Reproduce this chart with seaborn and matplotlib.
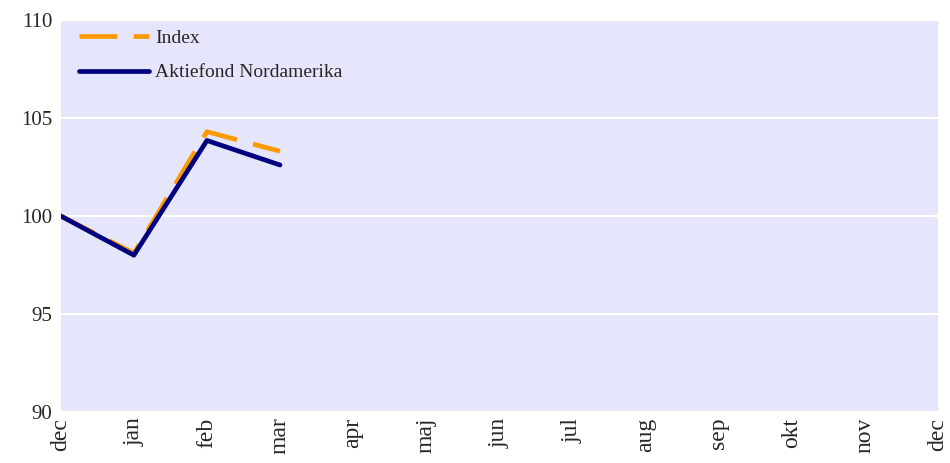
import pandas as pd
import matplotlib
matplotlib.use('Agg')
import matplotlib.pyplot as plt
import seaborn as sns

months = ['dec', 'jan', 'feb', 'mar', 'apr', 'maj', 'jun',
          'jul', 'aug', 'sep', 'okt', 'nov', 'dec']
index_vals = [100.0, 98.1, 104.3, 103.3]
fund_vals = [100.0, 98.0, 103.85, 102.6]

sns.set_style('white')
plt.rcParams['font.family'] = ['Liberation Serif', 'DejaVu Serif']

df = pd.concat([
    pd.DataFrame({'x': range(len(index_vals)), 'value': index_vals, 'serie': 'Index'}),
    pd.DataFrame({'x': range(len(fund_vals)), 'value': fund_vals, 'serie': 'Aktiefond Nordamerika'}),
])

fig, ax = plt.subplots(figsize=(9.5, 4.63), dpi=100, facecolor='w')
fig.subplots_adjust(left=0.064, right=0.987, top=0.957, bottom=0.110)
ax.set_facecolor('#e5e6fb')

sns.lineplot(data=df, x='x', y='value', hue='serie', style='serie',
             palette={'Index': '#ff9900', 'Aktiefond Nordamerika': '#000080'},
             dashes={'Index': (8, 3.5), 'Aktiefond Nordamerika': ''},
             linewidth=3.4, ax=ax)

ax.set_xlim(0, len(months) - 1)
ax.set_ylim(90, 110)
ax.set_yticks([90, 95, 100, 105, 110])
ax.set_xticks(range(len(months)))
ax.set_xticklabels(months, rotation=90, fontsize=17)
ax.tick_params(axis='y', labelsize=15, length=0, pad=6)
ax.tick_params(axis='x', length=0, pad=4)
ax.grid(axis='y', color='white', linewidth=1.5)
for s in ax.spines.values():
    s.set_visible(False)
ax.set_xlabel('')
ax.set_ylabel('')

ax.legend(loc='upper left', frameon=False, fontsize=14, handlelength=3.6,
          labelspacing=0.85, handletextpad=0.3, borderaxespad=0.1,
          bbox_to_anchor=(0.01, 1.0))

fig.savefig('out.png')
